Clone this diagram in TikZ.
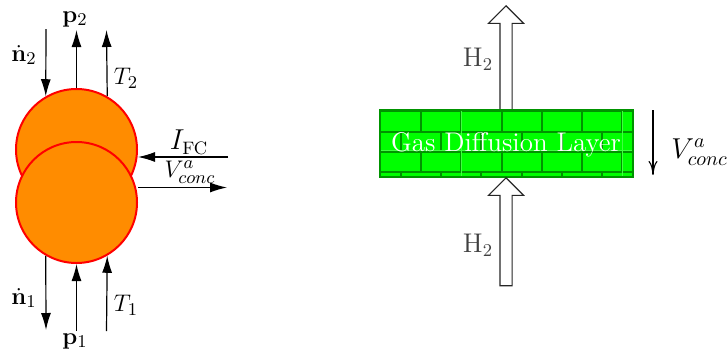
\documentclass[tikz,border=0pt]{standalone}
\usetikzlibrary{arrows.meta,shapes.arrows}
\definecolor{gdlgreen}{rgb}{0,1,0}
\definecolor{brickline}{rgb}{0,0.58,0}
\definecolor{volfill}{rgb}{1,0.55,0}
\tikzset{
    vol/.style={circle,draw=red,fill=volfill,line width=1pt,minimum size=60.5pt,inner sep=0pt},
    flow/.style={line width=0.6pt,-{Latex[length=8.5pt,width=5pt]}},
    gas/.style={single arrow,draw=black!85,fill=white,line width=0.55pt,rotate=90,anchor=tip,
        minimum width=17pt,minimum height=54pt,inner ysep=2.75pt,inner xsep=0pt,
        single arrow head extend=5.75pt,shape border rotate=0},
    lbl/.style={font=\fontsize{13.5}{16}\selectfont,inner sep=0pt},
    sml/.style={font=\fontsize{12.5}{15}\selectfont,inner sep=0pt},
    seam/.style={green!75!white,line width=0.25pt},
}
\begin{document}
\begin{tikzpicture}[x=0.5pt,y=-0.5pt]
    \useasboundingbox (0,0) rectangle (727,354);
    \node[vol] (Ca) at (76.5,149.5) {};
    \node[vol] (Cb) at (76.5,202.5) {};
    \coordinate (Na) at (46,29); \coordinate (Pa) at (76.5,30); \coordinate (Ta) at (106.5,30);
    \coordinate (Nb) at (46,330); \coordinate (Pb) at (76.5,331); \coordinate (Tb) at (106.5,331);
    \coordinate (I) at (228,157); \coordinate (V) at (227,187.5);
    \draw[flow] (Na) --(Ca.120); \draw[flow] (Ca.north) --(Pa); \draw[flow] (Ca.60) --(Ta);
    \draw[flow] (Cb.-120) --(Nb); \draw[flow] (Pb) --(Cb.south); \draw[flow] (Tb) --(Cb.-60);
    \draw[flow] (I) --(I-|Ca.east); \draw[flow] (V-|Cb.east) --(V);
    \node[sml] (ln2) at (24,55) {$\dot{\mathbf{n}}_2$};
    \node[sml] (lp2) at (75,19) {$\mathbf{p}_2$};
    \node[sml] (lT2) at (126,78) {$T_2$};
    \node[sml] (ln1) at (24,298) {$\dot{\mathbf{n}}_1$};
    \node[sml] (lp1) at (75,341) {$\mathbf{p}_1$};
    \node[sml] (lT1) at (126,305) {$T_1$};
    \node[lbl] (lI) at (189,142) {$I_{\mathrm{FC}}$};
    \node[sml] (lV) at (190,172) {$V^a_{conc}$};
    % gas diffusion layer
    \node[gas,minimum height=52pt] (Hu) at (506,5) {};
    \fill[gdlgreen] (380,110) rectangle (633,176);
    \begin{scope}[brickline,line width=1pt]
        \foreach \y in {111,131.5,152,172} \draw (380,\y) -- (633,\y);
        \foreach \x in {421,461,502,542,582,622} {
            \draw (\x,111) -- (\x,131.5); \draw (\x,152) -- (\x,172);
        }
        \foreach \x in {401,441,481,522,562,602} {
            \draw (\x,131.5) -- (\x,152); \draw (\x,172) -- (\x,176);
        }
    \end{scope}
    \draw[seam] (380,150.5) -- (633,150.5);
    \foreach \x in {461,622} \draw[seam] (\x,110) -- (\x,176);
    \node[draw=brickline,line width=1pt,minimum width=126.5pt,minimum height=33.5pt,inner sep=0pt] (GDL) at (506,143) {};
    \node[lbl,text=white] (GDLt) at (506,145) {Gas Diffusion Layer};
    \node[gas] (Hl) at (506,177) {};
    \node[lbl,text=black!75] (lHu) at (478,59) {H$_2$};
    \node[lbl,text=black!75] (lHl) at (478,245) {H$_2$};
    \coordinate (Vu) at (653,110); \coordinate (Vl) at (653,175);
    \draw[line width=0.55pt,-{To[length=7pt,width=4.5pt]}] (Vu) --(Vl);
    \node[font=\fontsize{14}{16}\selectfont,inner sep=0pt,anchor=west] (lVc) at (671,152) {$V^a_{conc}$};
\end{tikzpicture}
\end{document}
